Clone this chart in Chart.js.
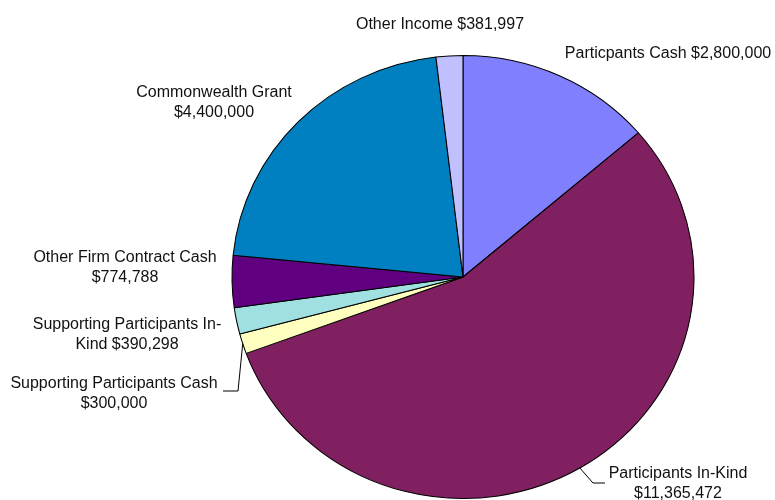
<!DOCTYPE html>
<html lang="en">
<head>
    <meta charset="UTF-8">
    <title>Funding Sources</title>
    <script src="https://cdn.jsdelivr.net/npm/chart.js"></script>
    <style>
        html, body { margin: 0; padding: 0; background: #fff; }
        #wrap { width: 775px; height: 500px; }
    </style>
</head>
<body>
    <div id="wrap"><canvas id="pie-chart" width="775" height="500"></canvas></div>

    <script>
        // data, clockwise from 12 o'clock
        const categories = [
            'Particpants Cash',
            'Participants In-Kind',
            'Supporting Participants Cash',
            'Supporting Participants In-Kind',
            'Other Firm Contract Cash',
            'Commonwealth Grant',
            'Other Income'
        ];
        const amounts = [2800000, 11365472, 300000, 390298, 774788, 4400000, 381997];
        const colors = ['#8080ff', '#802060', '#ffffc0', '#a0e0e0', '#600080', '#0080c0', '#c0c0ff'];

        // label text lines (how the reference wraps them)
        const labelLines = [
            ['Particpants Cash $2,800,000'],
            ['Participants In-Kind', '$11,365,472'],
            ['Supporting Participants Cash', '$300,000'],
            ['Supporting Participants In-', 'Kind $390,298'],
            ['Other Firm Contract Cash', '$774,788'],
            ['Commonwealth Grant', '$4,400,000'],
            ['Other Income $381,997']
        ];

        // layout: label centre x / first baseline y, and leader elbows
        const labelPos = [
            [668, 58], [678, 478], [114, 388], [127, 329], [125, 262], [214, 97], [440, 29]
        ];
        const leaders = {
            1: [[593, 483], [605, 483]],
            2: [[238, 391], [223, 391]]
        };

        const stretchX = 231 / 221.5; // reference pie is slightly wider than tall

        const fmt = v => '$' + v.toLocaleString('en-US');

        const ellipsePlugin = {
            id: 'ellipse',
            beforeDatasetsDraw(chart) {
                const arc = chart.getDatasetMeta(0).data[0];
                const ctx = chart.ctx;
                ctx.save();
                ctx.translate(arc.x, arc.y);
                ctx.scale(stretchX, 1);
                ctx.translate(-arc.x, -arc.y);
            },
            afterDatasetsDraw(chart) {
                chart.ctx.restore();
            }
        };

        const labelPlugin = {
            id: 'sliceLabels',
            afterDraw(chart) {
                const ctx = chart.ctx;
                const arcs = chart.getDatasetMeta(0).data;
                ctx.save();
                ctx.fillStyle = '#111';
                ctx.font = '16px "Liberation Sans", Arial, sans-serif';
                ctx.textAlign = 'center';
                ctx.textBaseline = 'alphabetic';
                labelLines.forEach((lines, i) => {
                    const [x, y] = labelPos[i];
                    lines.forEach((t, j) => ctx.fillText(t, x, y + j * 20));
                });

                // leader lines from slice edge
                ctx.strokeStyle = '#000';
                ctx.lineWidth = 1;
                Object.keys(leaders).forEach(k => {
                    const a = arcs[k];
                    const mid = (a.startAngle + a.endAngle) / 2;
                    const sx = a.x + Math.cos(mid) * a.outerRadius * stretchX;
                    const sy = a.y + Math.sin(mid) * a.outerRadius;
                    ctx.beginPath();
                    ctx.moveTo(sx, sy);
                    leaders[k].forEach(p => ctx.lineTo(p[0], p[1]));
                    ctx.stroke();
                });
                ctx.restore();
            }
        };

        new Chart(document.getElementById('pie-chart'), {
            type: 'pie',
            data: {
                labels: categories,
                datasets: [{
                    data: amounts,
                    backgroundColor: colors,
                    borderColor: '#000',
                    borderWidth: 1
                }]
            },
            options: {
                responsive: false,
                animation: false,
                layout: {
                    padding: { top: 55, bottom: 1, left: 241, right: 90 }
                },
                plugins: {
                    legend: { display: false },
                    tooltip: { enabled: false }
                }
            },
            plugins: [ellipsePlugin, labelPlugin]
        });
    </script>
</body>
</html>
